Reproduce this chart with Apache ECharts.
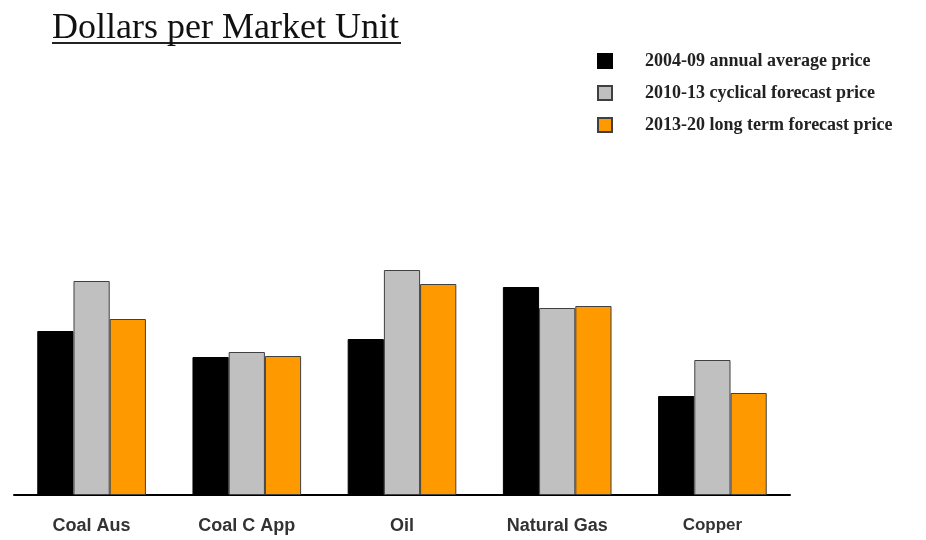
<!DOCTYPE html>
<html>
<head>
<meta charset="utf-8">
<script src="https://cdn.jsdelivr.net/npm/echarts@6/dist/echarts.min.js"></script>
<style>
  html, body { margin: 0; padding: 0; background: #fff; }
  #chart { width: 926px; height: 540px; }
</style>
</head>
<body>
<div id="chart"></div>
<script>
// categories and the three price series (relative heights, no scale in the source)
const categories = ["Coal Aus", "Coal C App", "Oil", "Natural Gas", "Copper"];
const avg0409 = [164, 138, 156, 208, 99];
const cyc1013 = [214, 143, 225, 187, 135];
const long1320 = [176, 139, 211, 189, 102];
const seriesNames = [
  "2004-09 annual average price",
  "2010-13 cyclical forecast price",
  "2013-20 long term forecast price"
];

const myChart = echarts.init(document.getElementById("chart"));

function barSeries(name, data, color, border) {
  return {
    name: name,
    type: "bar",
    data: data,
    barGap: "0%",
    barCategoryGap: "30%",
    itemStyle: { color: color, borderColor: border, borderWidth: 1 }
  };
}

const option = {
  animation: false,
  title: {
    text: "Dollars per Market Unit",
    left: 47,
    top: 6,
    textStyle: {
      fontFamily: "Liberation Serif",
      fontSize: 36,
      fontWeight: "normal",
      color: "#111"
    }
  },
  graphic: [
    {
      // underline of the title
      type: "line",
      shape: { x1: 52, y1: 43, x2: 401, y2: 43 },
      style: { stroke: "#222", lineWidth: 2 }
    }
  ],
  legend: {
    orient: "vertical",
    left: 592,
    top: 47,
    itemWidth: 14,
    itemHeight: 14,
    itemGap: 14,
    icon: "rect",
    textStyle: {
      fontFamily: "Liberation Serif",
      fontSize: 18,
      fontWeight: "bold",
      color: "#222",
      padding: [0, 0, 0, 28]
    },
    data: seriesNames
  },
  grid: {
    left: 14,
    right: 136,
    top: 255,
    bottom: 45
  },
  xAxis: {
    type: "category",
    data: categories,
    axisLine: { lineStyle: { color: "#000", width: 2 } },
    axisTick: { show: false },
    axisLabel: {
      interval: 0,
      hideOverlap: false,
      margin: 22,
      fontFamily: "Liberation Sans",
      fontSize: 18,
      fontWeight: "bold",
      color: "#333",
      formatter: function (value) {
        if (value === "Copper") return "{s|" + value + "}";
        if (value === "Natural Gas") return "{n|" + value + "}";
        return value;
      },
      rich: {
        s: { fontFamily: "Liberation Sans", fontSize: 17, fontWeight: "bold", color: "#333", padding: [0, 0, 10, 0] },
        n: { fontFamily: "Liberation Sans", fontSize: 18, fontWeight: "bold", color: "#333", padding: [0, 0, 10, 0] }
      }
    }
  },
  yAxis: {
    type: "value",
    min: 0,
    max: 240,
    show: false,
    splitLine: { show: false }
  },
  series: [
    barSeries(seriesNames[0], avg0409, "#000000", "#000000"),
    barSeries(seriesNames[1], cyc1013, "#c0c0c0", "#404040"),
    barSeries(seriesNames[2], long1320, "#ff9900", "#404040")
  ]
};

myChart.setOption(option, true);
window.addEventListener("resize", function () {
  myChart.resize();
});
</script>
</body>
</html>
